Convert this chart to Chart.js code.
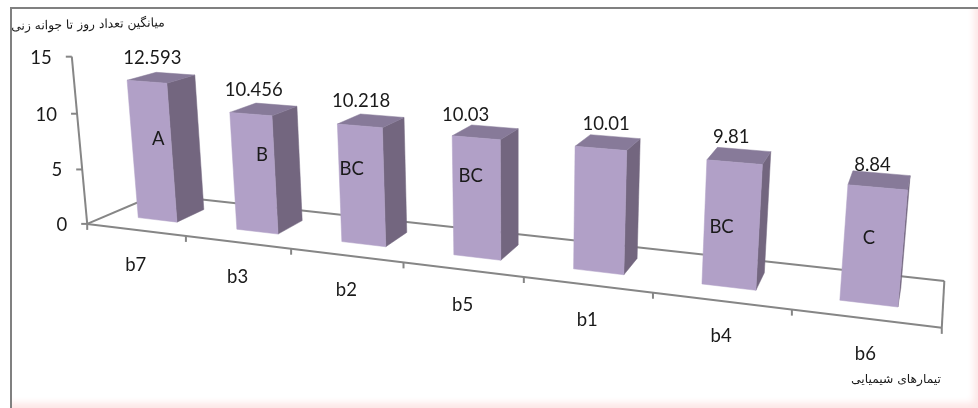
<!DOCTYPE html>
<html>
<head>
<meta charset="utf-8">
<style>
  html, body { margin: 0; padding: 0; width: 978px; height: 408px; overflow: hidden; background: #fff; }
  #frame {
    position: absolute; left: 10px; top: 7px; right: 0; bottom: 0;
    border-left: 2px solid #808080; border-top: 2px solid #808080;
    box-shadow: inset -5px -6px 7px -1px #fde6e6;
  }
  #activityChart { position: absolute; left: 0; top: 0; }
</style>
<script src="https://cdn.jsdelivr.net/npm/chart.js@4/dist/chart.umd.min.js"></script>
</head>
<body>
<div id="frame"></div>
<canvas id="activityChart" width="978" height="408"></canvas>
<script>
const categories = ["b7", "b3", "b2", "b5", "b1", "b4", "b6"];
const values = [12.593, 10.456, 10.218, 10.03, 10.01, 9.81, 8.84];
const letters = ["A", "B", "BC", "BC", "", "BC", "C"];
const yTitle = "میانگین تعداد روز تا جوانه زنی";
const xTitle = "تیمارهای شیمیایی";

// Hand-placed label nudges, relative to the bar's front face / top face centre
const letterNudge = [[6, -13], [8, -19], [-10, -17], [-6, -22], [0, 0], [-10, 2], [-4, -8]];
const valueNudge = [[-9, -20], [-10, -19], [-10, -20], [-20, -17], [-2, -18], [-8, -19], [-7, -15]];

// Camera for the 3D box: u = category position, v = depth (0 front, 1 back), z = value
const CAM = [
  92.95777, 82.36001, -1.19244, 87.20724,
  4.71513, -12.79459, -11.27769, 223.88583,
  -0.0309243, 0.0851053, -0.0023027
];
const BAR_V0 = 0.31;
const BAR_V1 = 0.725;

const FRONT_COLOR = "#b1a0c7";
const SIDE_COLOR = "#73667f";
const TOP_COLOR = "#877a99";
const AXIS_COLOR = "#868686";
const TEXT_FONT = "18.5px Lato, Carlito, sans-serif";
const TITLE_FONT = "12.3px 'DejaVu Sans', sans-serif";

function project(u, v, z) {
  const w = CAM[8] * u + CAM[9] * v + CAM[10] * z + 1;
  return [
    (CAM[0] * u + CAM[1] * v + CAM[2] * z + CAM[3]) / w,
    (CAM[4] * u + CAM[5] * v + CAM[6] * z + CAM[7]) / w
  ];
}

function line(ctx, a, b) {
  ctx.beginPath();
  ctx.moveTo(a[0], a[1]);
  ctx.lineTo(b[0], b[1]);
  ctx.stroke();
}

function face(ctx, color, pts) {
  ctx.fillStyle = color;
  ctx.strokeStyle = color;
  ctx.lineWidth = 0.5;
  ctx.beginPath();
  pts.forEach((p, i) => (i ? ctx.lineTo(p[0], p[1]) : ctx.moveTo(p[0], p[1])));
  ctx.closePath();
  ctx.fill();
  ctx.stroke();
}

function label(ctx, text, x, y, font, align) {
  ctx.font = font;
  ctx.textAlign = align || "center";
  ctx.textBaseline = "middle";
  ctx.fillStyle = "#1a1a1a";
  ctx.fillText(text, x, y);
}

// Redraws the flat bar chart as a perspective box, using the chart's scales and bar elements
const box3d = {
  id: "box3d",
  beforeDatasetDraw() {
    return false; // the flat rectangles are replaced below
  },
  afterDatasetsDraw(chart) {
    const ctx = chart.ctx;
    const xs = chart.scales.x;
    const ys = chart.scales.y;
    const n = categories.length;
    const toU = px => ((px - xs.left) / xs.width) * n;

    ctx.save();
    ctx.lineCap = "butt";

    // floor lines behind the bars
    ctx.strokeStyle = AXIS_COLOR;
    ctx.lineWidth = 2;
    line(ctx, project(0, 0, 0), project(0, 1, 0));
    line(ctx, project(0, 1, 0), project(n, 1, 0));
    line(ctx, project(n, 1, 0), project(n, 0, 0));

    chart.getDatasetMeta(0).data.forEach((bar, i) => {
      const l = toU(bar.x - bar.width / 2);
      const r = toU(bar.x + bar.width / 2);
      const z = ys.getValueForPixel(bar.y);
      const z0 = ys.getValueForPixel(bar.base);

      face(ctx, SIDE_COLOR, [project(r, BAR_V0, z0), project(r, BAR_V1, z0), project(r, BAR_V1, z), project(r, BAR_V0, z)]);
      face(ctx, TOP_COLOR, [project(l, BAR_V0, z), project(r, BAR_V0, z), project(r, BAR_V1, z), project(l, BAR_V1, z)]);
      face(ctx, FRONT_COLOR, [project(l, BAR_V0, z0), project(r, BAR_V0, z0), project(r, BAR_V0, z), project(l, BAR_V0, z)]);

      const mid = (l + r) / 2;
      const topC = project(mid, (BAR_V0 + BAR_V1) / 2, z);
      label(ctx, String(values[i]), topC[0] + valueNudge[i][0], topC[1] + valueNudge[i][1], TEXT_FONT);
      if (letters[i]) {
        const frontC = project(mid, BAR_V0, (z + z0) / 2);
        label(ctx, letters[i], frontC[0] + letterNudge[i][0], frontC[1] + letterNudge[i][1], TEXT_FONT);
      }
    });

    // value axis with its ticks and labels
    ctx.strokeStyle = AXIS_COLOR;
    ctx.lineWidth = 2;
    line(ctx, project(0, 0, ys.max), project(0, 0, 0));
    ys.ticks.forEach(t => {
      const p = project(0, 0, t.value);
      line(ctx, [p[0] - 6, p[1]], [p[0], p[1]]);
      label(ctx, String(t.value), p[0] - 20, p[1] + 1, TEXT_FONT, "right");
    });

    // front floor edge with category ticks and labels
    line(ctx, project(0, 0, 0), project(n, 0, 0));
    for (let i = 0; i <= n; i++) {
      const p = project(i, 0, 0);
      line(ctx, p, [p[0], p[1] + 6]);
    }
    categories.forEach((c, i) => {
      const p = project(i + 0.5, 0, 0);
      label(ctx, c, p[0], p[1] + 35, TEXT_FONT);
    });

    // axis titles
    ctx.direction = "rtl";
    ctx.save();
    ctx.translate(88, 25);
    ctx.rotate(-0.025);
    label(ctx, yTitle, 0, 0, TITLE_FONT);
    ctx.restore();
    label(ctx, xTitle, 896, 380, TITLE_FONT);
    ctx.restore();
  }
};

new Chart(document.getElementById("activityChart").getContext("2d"), {
  type: "bar",
  data: {
    labels: categories,
    datasets: [{ data: values, categoryPercentage: 1, barPercentage: 0.4 }]
  },
  options: {
    responsive: false,
    animation: false,
    plugins: { legend: { display: false }, tooltip: { enabled: false } },
    scales: {
      x: { display: false },
      y: { display: false, min: 0, max: 15, ticks: { stepSize: 5 } }
    }
  },
  plugins: [box3d]
});
</script>
</body>
</html>
